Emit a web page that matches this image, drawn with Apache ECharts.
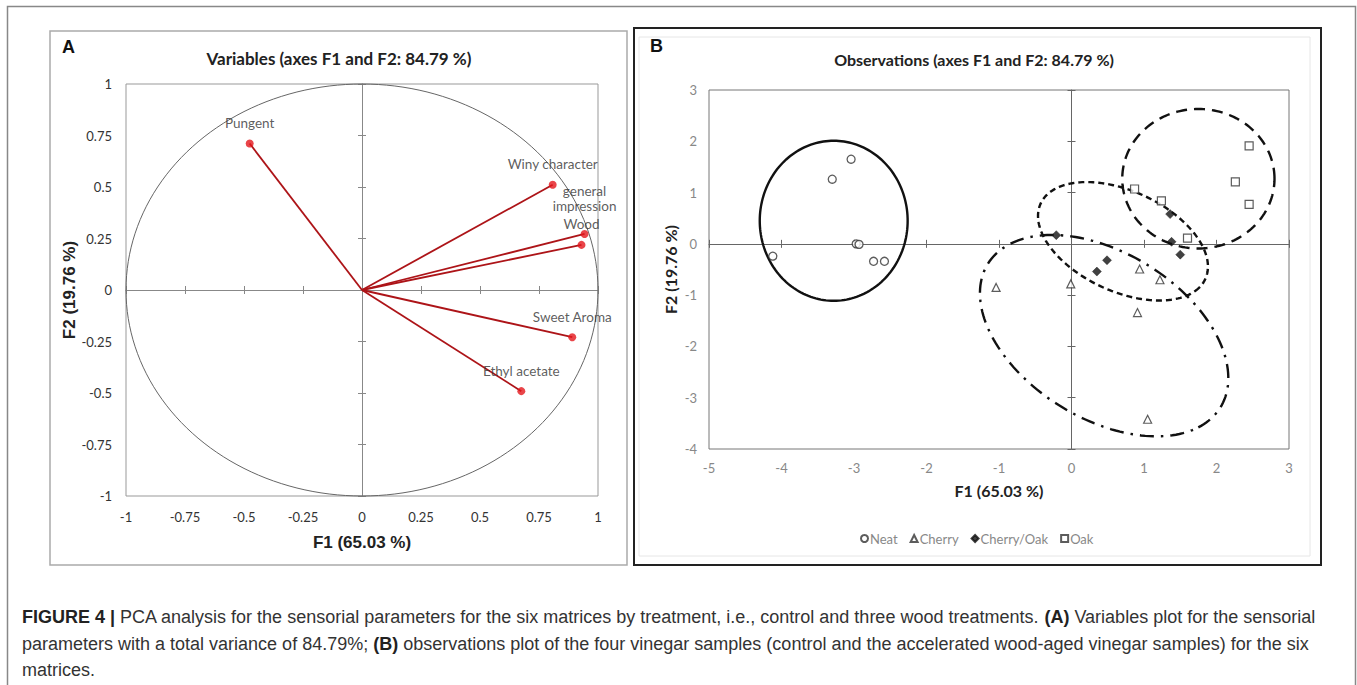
<!DOCTYPE html>
<html><head><meta charset="utf-8">
<script src="https://cdn.jsdelivr.net/npm/echarts@6/dist/echarts.min.js"></script>
<style>html,body{margin:0;padding:0;background:#fff}#c{width:1357px;height:685px}</style>
</head><body><div id="c"></div>
<script>
// ---------- Panel A: variables (correlation circle) ----------
const variableNames = ['Pungent', 'Winy character', 'general\nimpression', 'Wood', 'Sweet Aroma', 'Ethyl acetate'];
const variableF1 = [-0.476, 0.808, 0.943, 0.930, 0.891, 0.675];
const variableF2 = [0.711, 0.511, 0.272, 0.219, -0.229, -0.491];
const unitCircle = [0, 0, 1, 1, 0]; // centre F1, centre F2, radius F1, radius F2, angle

// ---------- Panel B: observations ----------
const neatF1 = [-3.30, -3.04, -2.97, -2.93, -2.73, -2.58, -4.12];
const neatF2 = [1.26, 1.65, 0.00, -0.01, -0.34, -0.34, -0.24];
const cherryF1 = [-1.04, -0.01, 0.94, 1.22, 0.91, 1.05];
const cherryF2 = [-0.85, -0.78, -0.49, -0.70, -1.34, -3.42];
const cherryOakF1 = [-0.21, 0.49, 0.35, 1.36, 1.38, 1.50];
const cherryOakF2 = [0.17, -0.32, -0.54, 0.58, 0.04, -0.21];
const oakF1 = [2.45, 2.26, 2.45, 0.87, 1.24, 1.60];
const oakF2 = [1.91, 1.21, 0.77, 1.07, 0.84, 0.11];
// ellipses: [centre F1, centre F2, semi-axis a, semi-axis b, angle in degrees]
const neatEllipse = [-3.28, 0.45, 1.02, 1.56, 0];
const cherryEllipse = [0.45, -1.79, 2.21, 1.38, -54];
const cherryOakEllipse = [0.71, 0.05, 1.39, 0.88, -44];
const oakEllipse = [1.75, 1.27, 1.05, 1.36, 0];

const CAL = 'Lato, "Open Sans", sans-serif';
const ARI = '"Liberation Sans", Arial, sans-serif';

function zip(a, b) { return a.map((v, i) => [v, b[i]]); }

function ellipseRenderer(stroke, width, dash) {
  return function (params, api) {
    const cx = api.value(0), cy = api.value(1), a = api.value(2), b = api.value(3);
    const ang = api.value(4) * Math.PI / 180;
    const pts = [];
    const N = 180;
    for (let i = 0; i <= N; i++) {
      const t = i / N * 2 * Math.PI;
      const x = cx + a * Math.cos(t) * Math.cos(ang) - b * Math.sin(t) * Math.sin(ang);
      const y = cy + a * Math.cos(t) * Math.sin(ang) + b * Math.sin(t) * Math.cos(ang);
      pts.push(api.coord([x, y]));
    }
    return { type: 'polyline', shape: { points: pts }, style: { fill: null, stroke: stroke, lineWidth: width, lineDash: dash || null }, silent: true };
  };
}

function labelAxis(grid, min, max, interval, labelStyle, extra) {
  return Object.assign({
    gridIndex: grid, type: 'value', min: min, max: max, interval: interval,
    axisLine: { show: false, onZero: false }, axisTick: { show: false },
    splitLine: { show: false }, axisLabel: labelStyle
  }, extra || {});
}
function zeroAxis(grid, min, max, interval, position, base, color, showLine) {
  return {
    gridIndex: grid, type: 'value', min: min, max: max, interval: interval, position: position,
    axisLine: { show: showLine, onZero: true, onZeroAxisIndex: base, lineStyle: { color: color, width: 1 } },
    axisTick: { show: true, length: 4, lineStyle: { color: color, width: 1 } },
    axisLabel: { show: false }, splitLine: { show: false }
  };
}

const chart = echarts.init(document.getElementById('c'), null, { renderer: 'svg' });

const labelA = { color: '#333', fontSize: 13, fontFamily: CAL, margin: 14 };
const labelB = { color: '#888', fontSize: 13, fontFamily: CAL, margin: 12 };
const captionFont = '18px "Liberation Sans", Arial';
const captionRich = { b: { fontWeight: 'bold', fontSize: 18, fontFamily: '"Liberation Sans", Arial', fill: '#222' } };

const option = {
  backgroundColor: '#fff',
  animation: false,
  title: [
    { text: 'Variables (axes F1 and F2: 84.79 %)', left: 339, top: 50, textAlign: 'center', padding: 0,
      textStyle: { fontFamily: CAL, fontWeight: 'bold', fontSize: 17, color: '#222' } },
    { text: 'Observations (axes F1 and F2: 84.79 %)', left: 974, top: 51, textAlign: 'center', padding: 0,
      textStyle: { fontFamily: CAL, fontWeight: 'bold', fontSize: 16, color: '#222' } }
  ],
  grid: [
    { left: 126, top: 84, width: 472, height: 412, show: true, borderColor: '#999', borderWidth: 1, backgroundColor: 'transparent' },
    { left: 709, top: 90, width: 580, height: 359, show: true, borderColor: '#777', borderWidth: 1, backgroundColor: 'transparent' }
  ],
  xAxis: [
    labelAxis(0, -1, 1, 0.25, labelA, {
      position: 'bottom', name: 'F1 (65.03 %)', nameLocation: 'middle', nameGap: 38,
      nameTextStyle: { fontFamily: ARI, fontWeight: 'bold', fontSize: 17, color: '#222' } }),
    zeroAxis(0, -1, 1, 0.25, 'bottom', 0, '#888', true),
    zeroAxis(0, -1, 1, 0.25, 'top', 0, '#888', false),
    labelAxis(1, -5, 3, 1, labelB, {
      position: 'bottom', name: 'F1 (65.03 %)', nameLocation: 'middle', nameGap: 33,
      nameTextStyle: { fontFamily: CAL, fontWeight: 'bold', fontSize: 16, color: '#222' } }),
    zeroAxis(1, -5, 3, 1, 'bottom', 3, '#666', true),
    zeroAxis(1, -5, 3, 1, 'top', 3, '#666', false)
  ],
  yAxis: [
    labelAxis(0, -1, 1, 0.25, labelA, {
      position: 'left', name: 'F2 (19.76 %)', nameLocation: 'middle', nameGap: 48,
      nameTextStyle: { fontFamily: ARI, fontWeight: 'bold', fontSize: 17, color: '#222' } }),
    zeroAxis(0, -1, 1, 0.25, 'left', 0, '#888', true),
    zeroAxis(0, -1, 1, 0.25, 'right', 0, '#888', false),
    labelAxis(1, -4, 3, 1, labelB, {
      position: 'left', name: 'F2 (19.76 %)', nameLocation: 'middle', nameGap: 31,
      nameTextStyle: { fontFamily: CAL, fontWeight: 'bold', fontSize: 16, color: '#222' } }),
    zeroAxis(1, -4, 3, 1, 'left', 3, '#666', true),
    zeroAxis(1, -4, 3, 1, 'right', 3, '#666', false)
  ],
  legend: {
    left: 855, top: 527, itemWidth: 7, itemHeight: 7, itemGap: 12,
    textStyle: { fontFamily: CAL, fontSize: 13, color: '#888', padding: [0, 0, 0, -3] },
    data: [
      { name: 'Neat', icon: 'circle' },
      { name: 'Cherry', icon: 'triangle' },
      { name: 'Cherry/Oak', icon: 'diamond' },
      { name: 'Oak', icon: 'rect' }
    ]
  },
  series: [
    // Panel A
    { type: 'custom', name: 'circle', xAxisIndex: 0, yAxisIndex: 0, silent: true, z: 2,
      data: [unitCircle], renderItem: ellipseRenderer('#666', 1, null) },
    { type: 'custom', name: 'vectors', xAxisIndex: 0, yAxisIndex: 0, silent: true, z: 3,
      data: zip(variableF1, variableF2),
      renderItem: function (params, api) {
        const o = api.coord([0, 0]);
        const e = api.coord([api.value(0), api.value(1)]);
        return { type: 'line', shape: { x1: o[0], y1: o[1], x2: e[0], y2: e[1] }, style: { stroke: '#ad1418', lineWidth: 1.8 } };
      } },
    { type: 'scatter', name: 'variables', xAxisIndex: 0, yAxisIndex: 0, silent: true, z: 4,
      symbol: 'circle', symbolSize: 8, itemStyle: { color: '#e3161c' },
      data: variableF1.map((x, i) => ({
        value: [x, variableF2[i]], name: variableNames[i],
        label: i === 2 ? { distance: 16, lineHeight: 15 } : undefined })),
      label: { show: true, position: 'top', distance: 9, formatter: '{b}', fontFamily: CAL, fontSize: 13.5, color: '#333', lineHeight: 15 } },
    // Panel B ellipses
    { type: 'custom', name: 'neatEllipse', xAxisIndex: 3, yAxisIndex: 3, silent: true, z: 2,
      data: [neatEllipse], renderItem: ellipseRenderer('#111', 2.4, null) },
    { type: 'custom', name: 'cherryEllipse', xAxisIndex: 3, yAxisIndex: 3, silent: true, z: 2,
      data: [cherryEllipse], renderItem: ellipseRenderer('#111', 2.4, [14, 7, 2.5, 7]) },
    { type: 'custom', name: 'cherryOakEllipse', xAxisIndex: 3, yAxisIndex: 3, silent: true, z: 2,
      data: [cherryOakEllipse], renderItem: ellipseRenderer('#111', 2.4, [6, 4]) },
    { type: 'custom', name: 'oakEllipse', xAxisIndex: 3, yAxisIndex: 3, silent: true, z: 2,
      data: [oakEllipse], renderItem: ellipseRenderer('#111', 2.4, [11, 7]) },
    // Panel B observations
    { type: 'scatter', name: 'Neat', xAxisIndex: 3, yAxisIndex: 3, symbol: 'circle', symbolSize: 8, z: 5,
      itemStyle: { color: '#fff', borderColor: '#333', borderWidth: 1.3 }, data: zip(neatF1, neatF2) },
    { type: 'scatter', name: 'Cherry', xAxisIndex: 3, yAxisIndex: 3, symbol: 'triangle', symbolSize: 8, z: 5,
      itemStyle: { color: '#fff', borderColor: '#333', borderWidth: 1.2 }, data: zip(cherryF1, cherryF2) },
    { type: 'scatter', name: 'Cherry/Oak', xAxisIndex: 3, yAxisIndex: 3, symbol: 'diamond', symbolSize: 9, z: 5,
      itemStyle: { color: '#111', borderColor: '#111', borderWidth: 0.5 }, data: zip(cherryOakF1, cherryOakF2) },
    { type: 'scatter', name: 'Oak', xAxisIndex: 3, yAxisIndex: 3, symbol: 'rect', symbolSize: 8, z: 5,
      itemStyle: { color: '#fff', borderColor: '#333', borderWidth: 1.2 }, data: zip(oakF1, oakF2) }
  ],
  graphic: [
    { type: 'rect', shape: { x: 7.5, y: 6.5, width: 1348, height: 700 }, style: { fill: null, stroke: '#888', lineWidth: 1.5 }, silent: true },
    { type: 'rect', shape: { x: 50, y: 31, width: 577, height: 534 }, style: { fill: null, stroke: '#aaa', lineWidth: 1.5 }, silent: true },
    { type: 'rect', shape: { x: 634, y: 28, width: 687, height: 537 }, style: { fill: null, stroke: '#222', lineWidth: 2 }, silent: true },
    { type: 'rect', shape: { x: 639, y: 37, width: 671, height: 519 }, style: { fill: null, stroke: '#e6e6e6', lineWidth: 1 }, silent: true },
    { type: 'text', left: 62, top: 38, style: { text: 'A', font: 'bold 18px "Liberation Sans", Arial', fill: '#111' } },
    { type: 'text', left: 650, top: 37, style: { text: 'B', font: 'bold 18px "Liberation Sans", Arial', fill: '#111' } },
    { type: 'text', left: 22, top: 608, style: {
        text: '{b|FIGURE 4 |} PCA analysis for the sensorial parameters for the six matrices by treatment, i.e., control and three wood treatments. {b|(A)} Variables plot for the sensorial',
        font: captionFont, fill: '#333', rich: captionRich } },
    { type: 'text', left: 22, top: 635, style: {
        text: 'parameters with a total variance of 84.79%; {b|(B)} observations plot of the four vinegar samples (control and the accelerated wood-aged vinegar samples) for the six',
        font: captionFont, fill: '#333', rich: captionRich } },
    { type: 'text', left: 22, top: 661, style: { text: 'matrices.', font: captionFont, fill: '#333' } }
  ]
};
chart.setOption(option);
</script>
</body></html>
